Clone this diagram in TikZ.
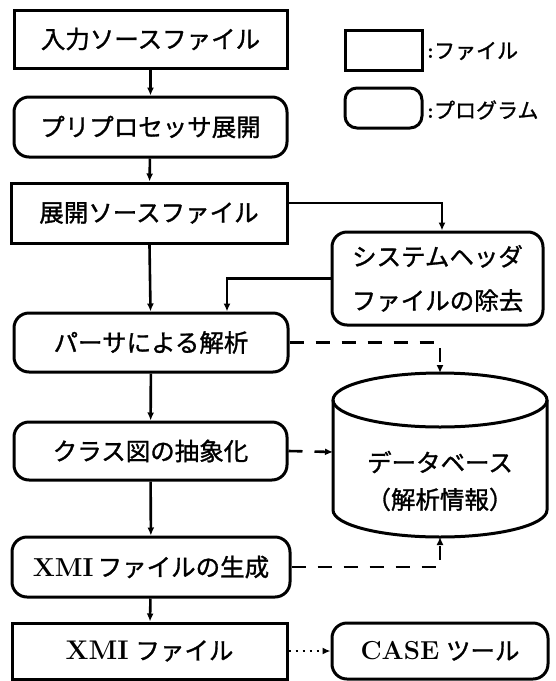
\documentclass[tikz,border=0pt]{standalone}
\usepackage{fontspec}
\newfontfamily\jp[FakeBold=1.2]{Noto Sans CJK JP}
\usetikzlibrary{arrows.meta}
\newcommand\latb[2]{{\rmfamily\bfseries\fontsize{#1}{#1}\selectfont #2}}
\begin{document}
\begin{tikzpicture}[x=1pt,y=-1pt,
  filebox/.style={draw, line width=3pt, rectangle, inner sep=0pt,
    font=\jp\fontsize{24.5}{44}\selectfont, align=center},
  progbox/.style={filebox, rounded corners=15pt},
  arr/.style={line width=2.6pt, -{Latex[length=8pt,width=7pt]}},
  dsh/.style={arr, dash pattern=on 14pt off 12pt},
  dot/.style={arr, dash pattern=on 2pt off 5pt},
  lab/.style={inner sep=0pt, anchor=west, font=\jp\fontsize{21}{24}\selectfont}]
\useasboundingbox (0,0) rectangle (555,681);
% legend
\node[filebox, minimum width=77pt, minimum height=40pt] (lf) at (383.5,50) {};
\node[progbox, rounded corners=12pt, minimum width=77pt, minimum height=40pt] (lp) at (383.5,108) {};
\node[lab] (lft) at (427,51) {\latb{22}{:}ファイル};
\node[lab] (lpt) at (427,110) {\latb{22}{:}プログラム};
% main column
\node[filebox, minimum width=273pt, minimum height=58pt] (in) at (150.5,39) {入力ソースファイル};
\node[progbox, minimum width=273pt, minimum height=60pt] (pp) at (150.5,127) {プリプロセッサ展開};
\node[filebox, minimum width=276pt, minimum height=60pt] (ex) at (149,213) {展開ソースファイル};
\node[progbox, minimum width=274pt, minimum height=59pt] (pa) at (151,342.5) {パーサによる解析};
\node[progbox, minimum width=273pt, minimum height=58pt] (cl) at (150.5,451) {クラス図の抽象化};
\node[progbox, minimum width=278pt, minimum height=60pt] (ge) at (151,567) {\latb{26}{XMI}\,ファイルの生成};
\node[filebox, minimum width=275pt, minimum height=56pt] (xm) at (149.5,651) {\latb{27}{XMI}\;ファイル};
% right column
\node[progbox, minimum width=211pt, minimum height=93pt] (sy) at (437.5,278.5) {システムヘッダ\\ファイルの除去};
\node[progbox, minimum width=216pt, minimum height=56pt] (ca) at (440,651) {\latb{26}{CASE}\;ツール};
% database cylinder
\draw[line width=3pt] (440,400) ellipse [x radius=107, y radius=27];
\draw[line width=3pt] (333,400) -- (333,510) arc[start angle=180, end angle=0, x radius=107, y radius=27] -- (547,400);
\coordinate (dbt) at (440,373);
\coordinate (dbl) at (333,452);
\coordinate (dbb) at (440,537);
\node[inner sep=0pt, align=center, font=\jp\fontsize{24.5}{37}\selectfont] (db) at (440,481) {データベース\\（解析情報）};
% connectors
\draw[arr] (in) -- (pp);
\draw[arr] (pp) -- (ex);
\draw[arr] (ex) -- (pa);
\draw[arr] (pa) -- (cl);
\draw[arr] (cl) -- (ge);
\draw[arr] (ge) -- (xm);
\draw[arr] ([yshift=10pt]ex.east) -| ([xshift=4.5pt]sy.north);
\draw[arr] (sy.west) -| ([xshift=76pt]pa.north);
\draw[dsh] (pa.east) -| (dbt);
\draw[dsh] (cl.east) -- (dbl);
\draw[dsh] (ge.east) -| (dbb);
\draw[dot] (xm.east) -- (ca.west);
\end{tikzpicture}
\end{document}
